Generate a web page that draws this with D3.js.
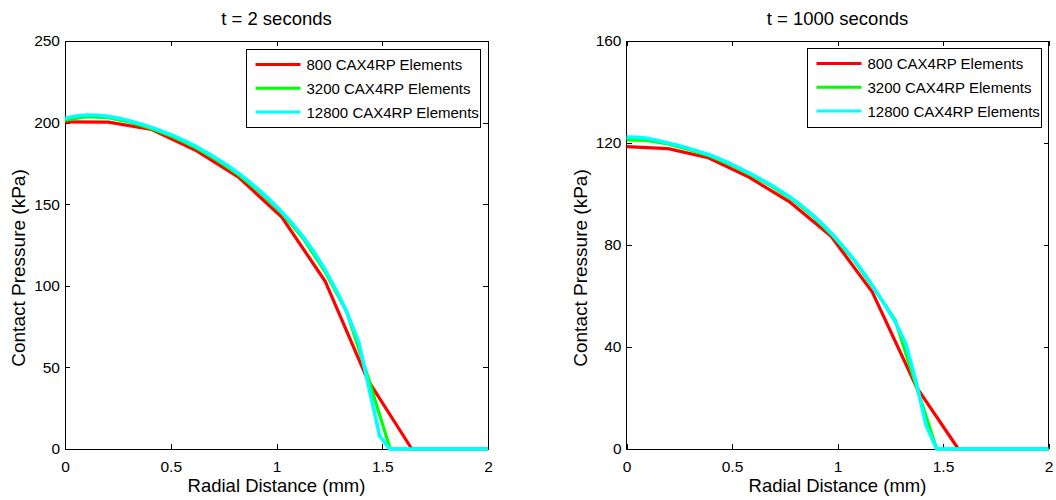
<!DOCTYPE html>
<html>
<head>
<meta charset="utf-8">
<script src="https://cdn.jsdelivr.net/npm/d3@7"></script>
<style>
  html, body { margin: 0; padding: 0; background: #fff; }
  svg { display: block; font-family: "Liberation Sans", Arial, sans-serif; }
</style>
</head>
<body>
<svg id="chart" width="1056" height="500"></svg>
<script>
// ---------- DATA ----------
const seriesNames = ["800 CAX4RP Elements", "3200 CAX4RP Elements", "12800 CAX4RP Elements"];
const seriesColors = ["#ff0000", "#00ff00", "#00ffff"];

// t = 2 seconds
const t2RedX   = [0, 0.205, 0.41, 0.615, 0.82, 1.025, 1.23, 1.43, 1.64, 2.0];
const t2RedY   = [200.5, 200.3, 195.8, 183.2, 166.6, 142.1, 102.8, 42.7, 0, 0];
const t2GreenX = [0, 0.1025, 0.205, 0.3075, 0.41, 0.5125, 0.615, 0.7175, 0.82, 0.9225, 1.025, 1.1275, 1.23, 1.3325, 1.435, 1.5375, 2.0];
const t2GreenY = [201.5, 203.6, 203.0, 200.2, 196.3, 191.2, 184.8, 177.1, 168.1, 157.3, 144.5, 128.8, 108.5, 84.0, 43.0, 0, 0];
const t2CyanX  = [0, 0.05125, 0.1025, 0.15375, 0.205, 0.25625, 0.3075, 0.35875, 0.41, 0.46125, 0.5125, 0.56375, 0.615, 0.66625, 0.7175, 0.76875, 0.82, 0.87125, 0.9225, 0.97375, 1.025, 1.07625, 1.1275, 1.17875, 1.23, 1.28125, 1.3325, 1.39, 1.4875, 1.535, 2.0];
const t2CyanY  = [202.5, 204.0, 204.6, 204.5, 203.8, 202.6, 201.0, 199.2, 197.0, 194.6, 192.0, 189.0, 185.7, 182.0, 178.0, 173.7, 169.0, 163.8, 158.2, 152.0, 145.3, 138.0, 129.8, 120.5, 109.8, 97.5, 84.0, 65.0, 8.0, 0, 0];

// t = 1000 seconds
const t1000RedX   = [0, 0.197, 0.388, 0.58, 0.775, 0.97, 1.165, 1.375, 1.573, 2.0];
const t1000RedY   = [118.6, 117.8, 114.2, 106.6, 96.8, 83.4, 61.5, 24.2, 0, 0];
const t1000GreenX = [0, 0.098, 0.196, 0.294, 0.392, 0.49, 0.588, 0.686, 0.784, 0.882, 0.98, 1.078, 1.176, 1.274, 1.372, 1.47, 2.0];
const t1000GreenY = [121.2, 121.0, 119.6, 117.5, 115.0, 111.6, 107.6, 103.1, 97.9, 91.4, 83.4, 74.0, 62.5, 50.5, 25.0, 0, 0];
const t1000CyanX  = [0, 0.049, 0.098, 0.147, 0.196, 0.245, 0.294, 0.343, 0.392, 0.441, 0.49, 0.539, 0.588, 0.637, 0.686, 0.735, 0.784, 0.833, 0.882, 0.931, 0.98, 1.029, 1.078, 1.127, 1.176, 1.225, 1.274, 1.323, 1.372, 1.421, 1.47, 2.0];
const t1000CyanY  = [122.3, 122.2, 121.8, 121.0, 120.0, 119.0, 117.9, 116.7, 115.4, 113.8, 112.0, 110.0, 108.0, 105.8, 103.5, 101.0, 98.3, 95.2, 91.8, 88.0, 83.8, 79.2, 74.3, 68.8, 62.8, 56.5, 49.8, 41.5, 26.5, 9.0, 0, 0];

const xTicks = [0, 0.5, 1, 1.5, 2];
const xTickLabels = ["0", "0.5", "1", "1.5", "2"];
const t2YTicks = [0, 50, 100, 150, 200, 250];
const t1000YTicks = [0, 40, 80, 120, 160];

const titles = ["t = 2 seconds", "t = 1000 seconds"];
const xLabel = "Radial Distance (mm)";
const yLabel = "Contact Pressure (kPa)";

// ---------- DRAW ----------
const svg = d3.select("#chart");
const lineWidths = [3.2, 3.2, 3.6];

const panels = [
  { left: 65, right: 488, top: 41, bottom: 449, yMax: 250, yTicks: t2YTicks, title: titles[0],
    series: [[t2RedX, t2RedY], [t2GreenX, t2GreenY], [t2CyanX, t2CyanY]],
    legend: { x: 246.5, y: 49.5, w: 233.5, h: 78 } },
  { left: 626.5, right: 1048.5, top: 41, bottom: 449, yMax: 160, yTicks: t1000YTicks, title: titles[1],
    series: [[t1000RedX, t1000RedY], [t1000GreenX, t1000GreenY], [t1000CyanX, t1000CyanY]],
    legend: { x: 807.5, y: 48.5, w: 233.5, h: 79 } }
];

panels.forEach(p => {
  const x = d3.scaleLinear().domain([0, 2]).range([p.left, p.right]);
  const y = d3.scaleLinear().domain([0, p.yMax]).range([p.bottom, p.top]);
  const g = svg.append("g");

  g.append("rect")
    .attr("x", p.left).attr("y", p.top)
    .attr("width", p.right - p.left).attr("height", p.bottom - p.top)
    .attr("fill", "none").attr("stroke", "#000").attr("stroke-width", 1)
    .attr("shape-rendering", "crispEdges");

  const fmtX = (d, i) => xTickLabels[i];
  const axB = g.append("g").attr("transform", `translate(0,${p.bottom})`)
    .call(d3.axisBottom(x).tickValues(xTicks).tickFormat(fmtX).tickSize(-5).tickPadding(12));
  const axT = g.append("g").attr("transform", `translate(0,${p.top})`)
    .call(d3.axisTop(x).tickValues(xTicks).tickFormat("").tickSize(-5));
  const axL = g.append("g").attr("transform", `translate(${p.left},0)`)
    .call(d3.axisLeft(y).tickValues(p.yTicks).tickFormat(d3.format("d")).tickSize(-5).tickPadding(5));
  const axR = g.append("g").attr("transform", `translate(${p.right},0)`)
    .call(d3.axisRight(y).tickValues(p.yTicks).tickFormat("").tickSize(-5));
  [axB, axT, axL, axR].forEach(a => {
    a.select(".domain").remove();
    a.selectAll(".tick line").attr("stroke", "#000").attr("shape-rendering", "crispEdges");
    a.selectAll("text").attr("fill", "#000").attr("font-size", 15.5)
      .attr("font-family", "Liberation Sans, Arial, sans-serif");
  });

  const line = d3.line().x(d => x(d[0])).y(d => y(d[1]));
  p.series.forEach((s, i) => {
    const pts = s[0].map((xv, k) => [xv, s[1][k]]);
    g.append("path").datum(pts)
      .attr("d", line)
      .attr("fill", "none")
      .attr("stroke", seriesColors[i])
      .attr("stroke-width", lineWidths[i])
      .attr("stroke-linejoin", "round");
  });

  g.append("text")
    .attr("x", (p.left + p.right) / 2).attr("y", 25)
    .attr("text-anchor", "middle").attr("font-size", 18.5).attr("fill", "#000")
    .text(p.title);

  g.append("text")
    .attr("x", (p.left + p.right) / 2).attr("y", 492)
    .attr("text-anchor", "middle").attr("font-size", 18.5).attr("fill", "#000")
    .text(xLabel);

  g.append("text")
    .attr("transform", `translate(${p.left - 40},${268}) rotate(-90)`)
    .attr("text-anchor", "middle").attr("font-size", 19).attr("fill", "#000")
    .text(yLabel);

  const L = p.legend;
  const lg = g.append("g");
  lg.append("rect").attr("x", L.x).attr("y", L.y).attr("width", L.w).attr("height", L.h)
    .attr("fill", "#fff").attr("stroke", "#000").attr("stroke-width", 1)
    .attr("shape-rendering", "crispEdges");
  seriesNames.forEach((name, i) => {
    const yy = L.y + 15 + i * 23.8;
    lg.append("line")
      .attr("x1", L.x + 9).attr("x2", L.x + 54)
      .attr("y1", yy).attr("y2", yy)
      .attr("stroke", seriesColors[i]).attr("stroke-width", 3);
    lg.append("text")
      .attr("x", L.x + 60).attr("y", yy + 5.5)
      .attr("font-size", 15).attr("fill", "#000")
      .text(name);
  });
});
</script>
</body>
</html>
